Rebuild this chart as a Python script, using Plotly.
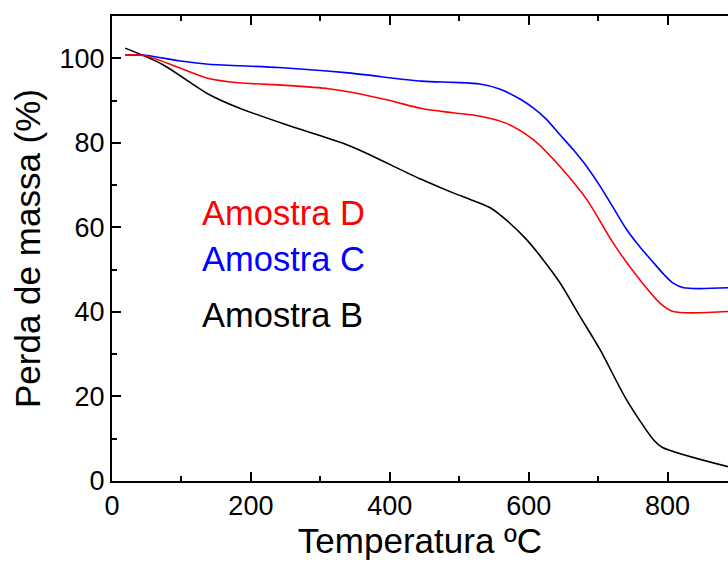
import plotly.graph_objects as go

# Amostra B (black)
b_x = [19, 72, 139, 182, 249, 331, 364, 446, 492, 516, 544, 568, 597, 621, 645, 674, 703, 741, 780, 792, 887]
b_y = [102.4, 98.6, 91.5, 88.3, 84.4, 80.0, 77.7, 71.3, 68.1, 66.6, 64.7, 61.7, 57.1, 52.3, 46.9, 38.9, 31.0, 19.2, 9.7, 8.0, 3.4]
# Amostra C (blue)
c_x = [19, 48, 96, 139, 240, 336, 446, 491, 530, 559, 588, 607, 626, 645, 664, 684, 703, 722, 741, 760, 780, 795, 808, 823, 887]
c_y = [100.8, 100.7, 99.4, 98.6, 97.8, 96.6, 94.6, 94.3, 93.9, 92.7, 90.3, 88.2, 85.5, 81.9, 78.4, 74.3, 69.7, 64.6, 59.5, 55.4, 51.6, 48.8, 46.8, 45.7, 45.7]
# Amostra D (red)
d_x = [19, 48, 96, 139, 182, 249, 312, 346, 400, 446, 491, 530, 568, 607, 645, 684, 722, 760, 789, 808, 887]
d_y = [100.8, 100.6, 97.8, 95.2, 94.2, 93.6, 92.8, 91.9, 90.0, 88.1, 87.1, 86.3, 84.6, 80.7, 74.4, 66.5, 56.2, 47.6, 42.1, 40.1, 40.1]

labels = ["Amostra D", "Amostra C", "Amostra B"]
label_colors = ["#ff0000", "#0000ff", "#000000"]
label_y = [63.3, 52.5, 39.2]
label_x = 127

FONT = "Arial, Liberation Sans, Helvetica, sans-serif"

fig = go.Figure()
for xs, ys, col in [(b_x, b_y, "#000000"), (c_x, c_y, "#0000ff"), (d_x, d_y, "#ff0000")]:
    fig.add_trace(go.Scatter(x=xs, y=ys, mode="lines",
                             line=dict(color=col, width=1.6, shape="spline", smoothing=0.8),
                             showlegend=False, hoverinfo="skip"))

for t, c, y in zip(labels, label_colors, label_y):
    fig.add_annotation(x=label_x, y=y, text=t, showarrow=False, xanchor="left", yanchor="middle",
                       font=dict(family=FONT, size=34.5, color=c))

axis_common = dict(showline=True, linecolor="black", linewidth=2, mirror="ticks",
                   ticks="inside", ticklen=9, tickwidth=2, tickcolor="black",
                   showgrid=False, zeroline=False,
                   tickfont=dict(family=FONT, size=27, color="black"))

fig.update_xaxes(range=[0, 887], dtick=200, tick0=0,
                 minor=dict(ticks="inside", ticklen=5, dtick=100, tickwidth=2, tickcolor="black"),
                 title=dict(text="Temperatura ºC", font=dict(family=FONT, size=35, color="black"), standoff=6),
                 **axis_common)
axis_y = dict(axis_common)
axis_y["mirror"] = False
fig.update_yaxes(range=[0, 110], dtick=20, tick0=0,
                 minor=dict(ticks="inside", ticklen=5, dtick=10, tickwidth=2, tickcolor="black"),
                 title=dict(text="Perda de massa (%)", font=dict(family=FONT, size=35, color="black"), standoff=8),
                 **axis_y)

fig.update_layout(width=728, height=562, autosize=False,
                  margin=dict(l=112, r=0, t=16, b=81),
                  plot_bgcolor="white", paper_bgcolor="white")

fig.write_html("out.html")
